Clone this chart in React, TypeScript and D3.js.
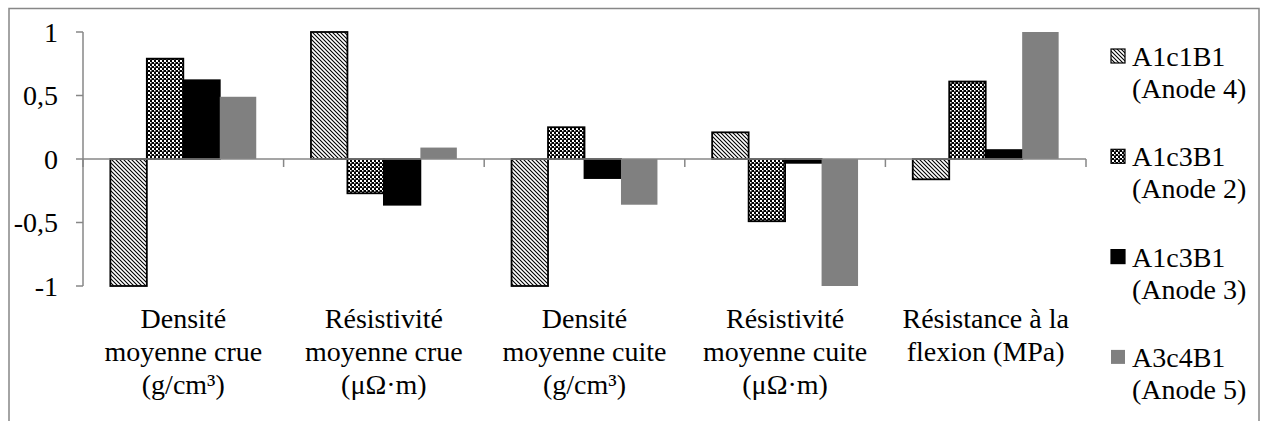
import React, { useEffect, useRef } from "react";
import * as d3 from "d3";

const categories: string[][] = [
  ["Densité", "moyenne crue", "(g/cm³)"],
  ["Résistivité", "moyenne crue", "(μΩ·m)"],
  ["Densité", "moyenne cuite", "(g/cm³)"],
  ["Résistivité", "moyenne cuite", "(μΩ·m)"],
  ["Résistance à la", "flexion (MPa)"],
];

const seriesNames: string[][] = [
  ["A1c1B1", "(Anode 4)"],
  ["A1c3B1", "(Anode 2)"],
  ["A1c3B1", "(Anode 3)"],
  ["A3c4B1", "(Anode 5)"],
];

const anode4: number[] = [-1, 1, -1, 0.21, -0.16];
const anode2: number[] = [0.79, -0.27, 0.25, -0.49, 0.61];
const anode3: number[] = [0.62, -0.36, -0.15, -0.03, 0.07];
const anode5: number[] = [0.49, 0.09, -0.36, -1, 1];

const yTicks: number[] = [1, 0.5, 0, -0.5, -1];
const yTickLabels: string[] = ["1", "0,5", "0", "-0,5", "-1"];

const seriesValues = [anode4, anode2, anode3, anode5];
const fills = ["url(#hatch)", "url(#check)", "#000000", "#808080"];
const strokes = ["#000000", "#000000", "#000000", "none"];

const AXIS = "#878787";
const FF = "Liberation Serif";
const FS = 28;

export default function App() {
  const ref = useRef<SVGSVGElement>(null);
  const catKeys = categories.map((_, i) => String(i));
  const x = d3.scaleBand().domain(catKeys).range([83, 1086]).paddingInner(0).paddingOuter(0);
  const xs = d3
    .scaleBand()
    .domain(seriesValues.map((_, i) => String(i)))
    .range([0, x.bandwidth()])
    .paddingInner(0)
    .paddingOuter(0.75);
  const y = d3.scaleLinear().domain([-1, 1]).range([286, 32]);
  const y0 = y(0);

  useEffect(() => {
    if (!ref.current) return;
    d3.select(ref.current)
      .selectAll("text")
      .style("font-family", '"Liberation Serif", serif', "important")
      .style("font-size", "28px", "important");
  });

  return (
    <svg
      ref={ref}
      width={1263}
      height={421}
      style={{ position: "absolute", left: 0, top: 0, background: "#fff", fontFamily: FF }}
    >
      <defs>
        <pattern id="hatch" patternUnits="userSpaceOnUse" width={4} height={4}>
          <rect width={4} height={4} fill="#fff" />
          <path d="M-1,-1 L5,5 M-1,3 L1,5 M3,-1 L5,1" stroke="#000" strokeWidth={1.1} />
        </pattern>
        <pattern id="check" patternUnits="userSpaceOnUse" width={4} height={4}>
          <rect width={4} height={4} fill="#000" />
          <rect x={0} y={0} width={2} height={2} fill="#fff" />
          <rect x={2} y={2} width={1.5} height={1.5} fill="#fff" />
        </pattern>
      </defs>
      <rect x={0} y={0} width={1263} height={421} fill="#fff" />
      <rect x={9} y={8.5} width={1250} height={430} fill="none" stroke={AXIS} strokeWidth={1.5} />

      {seriesValues.map((vals, si) =>
        vals.map((v, ci) => {
          const bx = (x(String(ci)) as number) + (xs(String(si)) as number);
          const top = Math.min(y(v), y0);
          const h = Math.abs(y(v) - y0);
          return (
            <rect
              key={`${si}-${ci}`}
              x={bx}
              y={top}
              width={xs.bandwidth()}
              height={h}
              fill={fills[si]}
              stroke={strokes[si]}
              strokeWidth={1.8}
            />
          );
        })
      )}

      <line x1={83} x2={83} y1={y(1)} y2={y(-1)} stroke={AXIS} strokeWidth={1.5} />
      {yTicks.map((t, i) => (
        <g key={t}>
          <line x1={76} x2={83} y1={y(t)} y2={y(t)} stroke={AXIS} strokeWidth={1.5} />
          <text x={58} y={y(t) + 9.5} textAnchor="end" fontFamily={FF} fontSize={FS} fill="#000">
            {yTickLabels[i]}
          </text>
        </g>
      ))}

      <line x1={83} x2={1086} y1={y0} y2={y0} stroke={AXIS} strokeWidth={1.5} />
      {catKeys.concat(["end"]).map((k, i) => {
        const xx = i < catKeys.length ? (x(k) as number) : 1086;
        return <line key={k} x1={xx} x2={xx} y1={y0} y2={y0 + 8} stroke={AXIS} strokeWidth={1.5} />;
      })}

      {categories.map((lines, ci) =>
        lines.map((l, li) => (
          <text
            key={`${ci}-${li}`}
            x={(x(String(ci)) as number) + x.bandwidth() / 2}
            y={328 + li * 33}
            textAnchor="middle"
            fontFamily={FF}
            fontSize={FS}
            fill="#000"
          >
            {l}
          </text>
        ))
      )}

      {seriesNames.map((lines, si) => {
        const base = 66 + si * 100.3;
        return (
          <g key={si}>
            <rect x={1111} y={base - 17} width={14} height={14} fill={fills[si]} stroke={strokes[si]} strokeWidth={1.2} />
            {lines.map((l, li) => (
              <text key={li} x={1132} y={base + li * 32} fontFamily={FF} fontSize={FS} fill="#000">
                {l}
              </text>
            ))}
          </g>
        );
      })}
    </svg>
  );
}
